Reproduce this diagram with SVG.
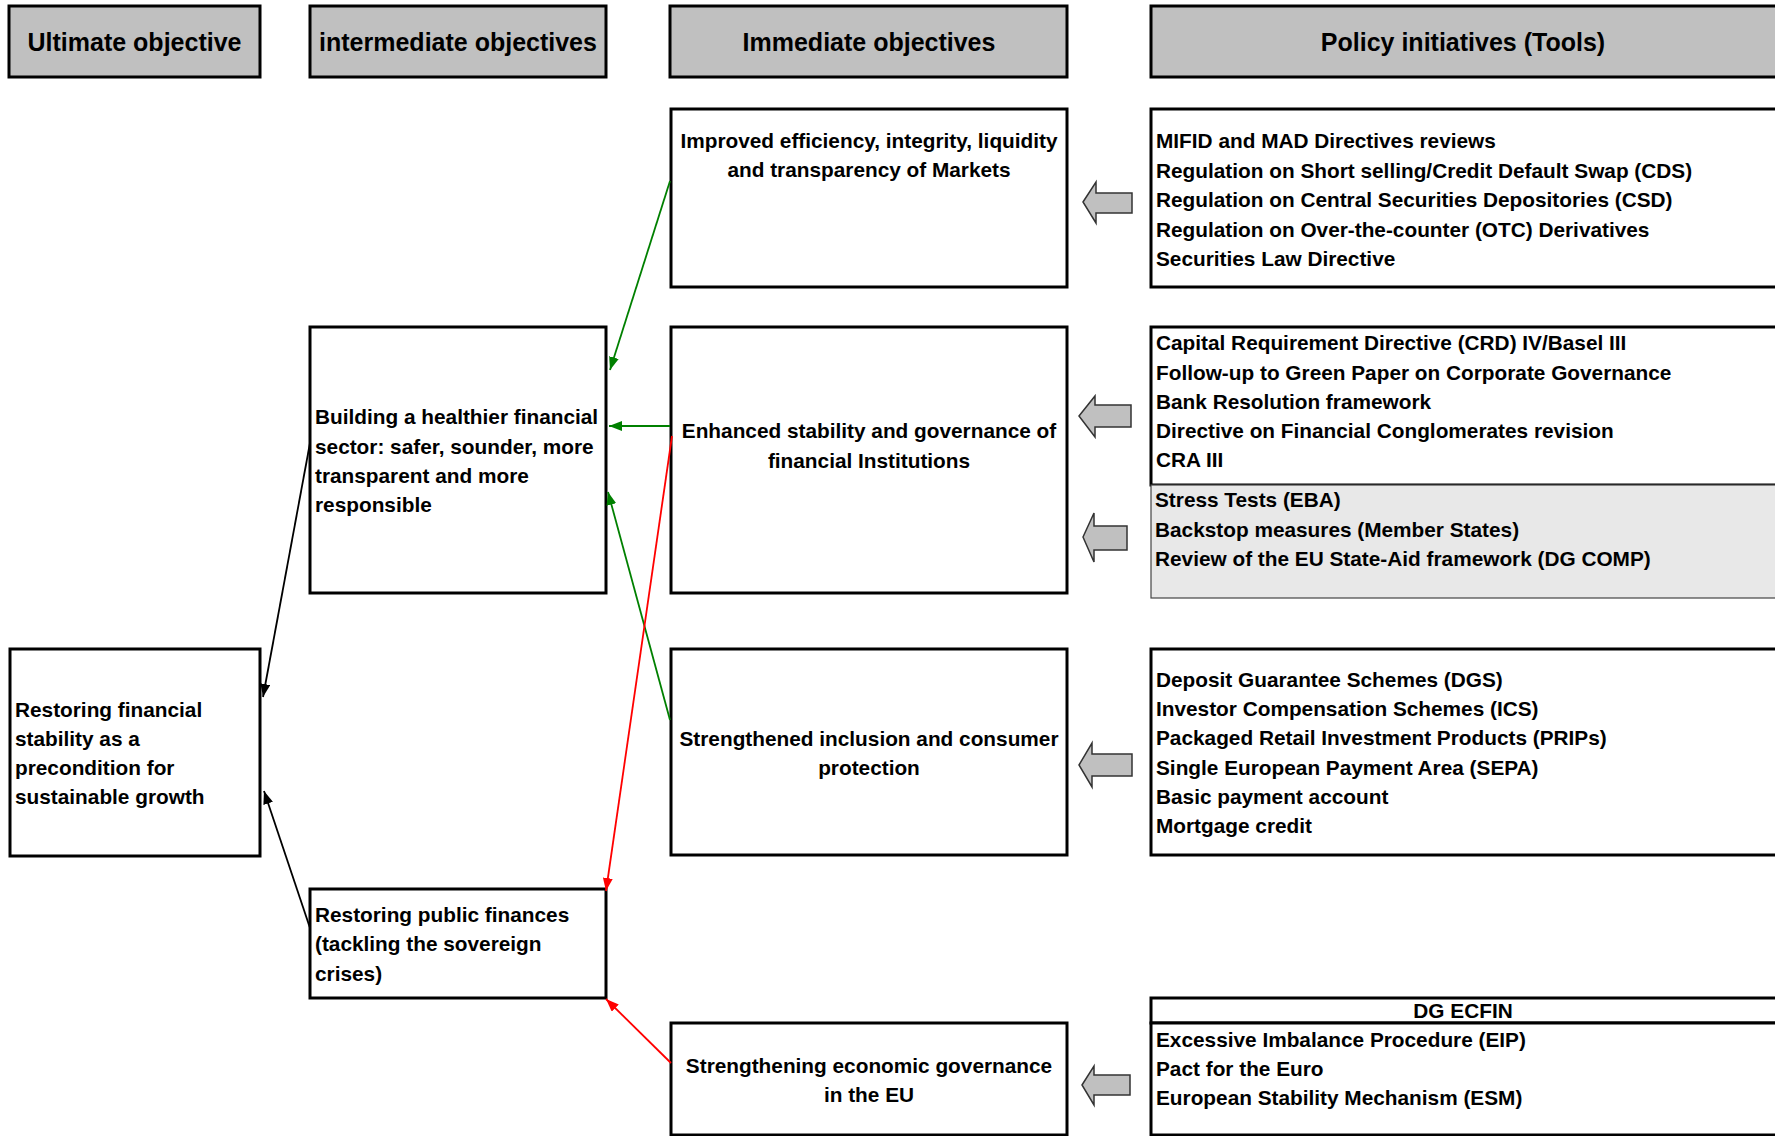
<svg xmlns="http://www.w3.org/2000/svg" width="1775" height="1136" viewBox="0 0 1775 1136">
<style>
text{font-family:"Liberation Sans",Arial,sans-serif;font-weight:bold;fill:#000}
.h{font-size:25px;text-anchor:middle}
.t{font-size:20.8px}
.c{text-anchor:middle}
.hdr{fill:#c0c0c0;stroke:#000;stroke-width:3}
.box{fill:#fff;stroke:#000;stroke-width:3}
.gbox{fill:#e8e8e8;stroke:#444;stroke-width:1.2}
.blk{fill:#c0c0c0;stroke:#333;stroke-width:1.5}
.g{stroke:#008000;stroke-width:1.8;fill:none}
.r{stroke:#ff0000;stroke-width:1.8;fill:none}
.k{stroke:#000;stroke-width:1.8;fill:none}
</style>
<defs>
<marker id="ag" markerUnits="userSpaceOnUse" markerWidth="14" markerHeight="10" refX="13" refY="5" orient="auto"><path d="M0,0 L13,5 L0,10 z" fill="#008000"/></marker>
<marker id="ar" markerUnits="userSpaceOnUse" markerWidth="14" markerHeight="10" refX="13" refY="5" orient="auto"><path d="M0,0 L13,5 L0,10 z" fill="#ff0000"/></marker>
<marker id="ak" markerUnits="userSpaceOnUse" markerWidth="14" markerHeight="10" refX="13" refY="5" orient="auto"><path d="M0,0 L13,5 L0,10 z" fill="#000"/></marker>
</defs>
<rect width="1775" height="1136" fill="#fff"/>

<g id="header-ultimate"><rect class="hdr" x="9" y="6" width="251" height="71"/><text class="h" x="134.5" y="51">Ultimate objective</text></g>
<g id="header-intermediate"><rect class="hdr" x="310" y="6" width="296" height="71"/><text class="h" x="458" y="51">intermediate objectives</text></g>
<g id="header-immediate"><rect class="hdr" x="670" y="6" width="397" height="71"/><text class="h" x="869" y="51">Immediate objectives</text></g>
<g id="header-policy"><rect class="hdr" x="1151" y="6" width="630" height="71"/><text class="h" x="1463" y="51">Policy initiatives (Tools)</text></g>

<g id="node-restoring-stability"><rect class="box" x="10" y="649" width="250" height="207"/>
<text class="t" x="15" y="717">Restoring financial</text>
<text class="t" x="15" y="746">stability as a</text>
<text class="t" x="15" y="775">precondition for</text>
<text class="t" x="15" y="804">sustainable growth</text></g>

<g id="node-healthier-sector"><rect class="box" x="310" y="327" width="296" height="266"/>
<text class="t" x="315" y="424">Building a healthier financial</text>
<text class="t" x="315" y="454">sector: safer, sounder, more</text>
<text class="t" x="315" y="483">transparent and more</text>
<text class="t" x="315" y="512">responsible</text></g>

<g id="node-public-finances"><rect class="box" x="310" y="889" width="296" height="109"/>
<text class="t" x="315" y="922">Restoring public finances</text>
<text class="t" x="315" y="951">(tackling the sovereign</text>
<text class="t" x="315" y="981">crises)</text></g>

<g id="node-markets"><rect class="box" x="671" y="109" width="396" height="178"/>
<text class="t c" x="869" y="148">Improved efficiency, integrity, liquidity</text>
<text class="t c" x="869" y="177">and transparency of Markets</text></g>

<g id="node-institutions"><rect class="box" x="671" y="327" width="396" height="266"/>
<text class="t c" x="869" y="438">Enhanced stability and governance of</text>
<text class="t c" x="869" y="468">financial Institutions</text></g>

<g id="node-consumer"><rect class="box" x="671" y="649" width="396" height="206"/>
<text class="t c" x="869" y="746">Strengthened inclusion and consumer</text>
<text class="t c" x="869" y="775">protection</text></g>

<g id="node-economic-governance"><rect class="box" x="671" y="1023" width="396" height="112"/>
<text class="t c" x="869" y="1073">Strengthening economic governance</text>
<text class="t c" x="869" y="1102">in the EU</text></g>

<g id="tools-markets"><rect class="box" x="1151" y="109" width="630" height="178"/>
<text class="t" x="1156" y="148">MIFID and MAD Directives reviews</text>
<text class="t" x="1156" y="177.5">Regulation on Short selling/Credit Default Swap (CDS)</text>
<text class="t" x="1156" y="207">Regulation on Central Securities Depositories (CSD)</text>
<text class="t" x="1156" y="236.5">Regulation on Over-the-counter (OTC) Derivatives</text>
<text class="t" x="1156" y="266">Securities Law Directive</text></g>

<g id="tools-institutions"><rect class="box" x="1151" y="327" width="630" height="158"/>
<text class="t" x="1156" y="350">Capital Requirement Directive (CRD) IV/Basel III</text>
<text class="t" x="1156" y="379.5">Follow-up to Green Paper on Corporate Governance</text>
<text class="t" x="1156" y="409">Bank Resolution framework</text>
<text class="t" x="1156" y="438">Directive on Financial Conglomerates revision</text>
<text class="t" x="1156" y="467">CRA III</text></g>

<g id="tools-stress"><rect class="gbox" x="1151" y="485" width="630" height="113"/>
<text class="t" x="1155" y="507">Stress Tests (EBA)</text>
<text class="t" x="1155" y="536.5">Backstop measures (Member States)</text>
<text class="t" x="1155" y="566">Review of the EU State-Aid framework (DG COMP)</text></g>

<g id="tools-consumer"><rect class="box" x="1151" y="649" width="630" height="206"/>
<text class="t" x="1156" y="687">Deposit Guarantee Schemes (DGS)</text>
<text class="t" x="1156" y="716">Investor Compensation Schemes (ICS)</text>
<text class="t" x="1156" y="745">Packaged Retail Investment Products (PRIPs)</text>
<text class="t" x="1156" y="774.5">Single European Payment Area (SEPA)</text>
<text class="t" x="1156" y="803.5">Basic payment account</text>
<text class="t" x="1156" y="833">Mortgage credit</text></g>

<g id="tools-ecfin"><rect class="box" x="1151" y="998" width="630" height="25"/>
<text class="t c" x="1463" y="1018">DG ECFIN</text>
<rect class="box" x="1151" y="1023" width="630" height="112"/>
<text class="t" x="1156" y="1046.5">Excessive Imbalance Procedure (EIP)</text>
<text class="t" x="1156" y="1075.5">Pact for the Euro</text>
<text class="t" x="1156" y="1104.5">European Stability Mechanism (ESM)</text></g>

<g id="connectors">
<polygon class="blk" points="1083,202 1096,182 1096,193 1132,193 1132,213 1096,213 1096,223"/>
<polygon class="blk" points="1079,416 1095,396 1095,405 1131,405 1131,427 1095,427 1095,437"/>
<polygon class="blk" points="1083,537 1094,513 1094,526 1127,526 1127,550 1094,550 1094,562"/>
<polygon class="blk" points="1079,765 1092,743 1092,754 1132,754 1132,776 1092,776 1092,787"/>
<polygon class="blk" points="1082,1085 1094,1066 1094,1075 1130,1075 1130,1095 1094,1095 1094,1105"/>
<line class="g" x1="670" y1="181" x2="610" y2="370" marker-end="url(#ag)"/>
<line class="g" x1="670" y1="426" x2="609" y2="426" marker-end="url(#ag)"/>
<line class="g" x1="670" y1="720" x2="608" y2="492" marker-end="url(#ag)"/>
<line class="r" x1="672" y1="436" x2="606" y2="891" marker-end="url(#ar)"/>
<line class="r" x1="671" y1="1063" x2="606" y2="999" marker-end="url(#ar)"/>
<line class="k" x1="310" y1="443" x2="263" y2="697" marker-end="url(#ak)"/>
<line class="k" x1="310" y1="928" x2="264" y2="791" marker-end="url(#ak)"/>
</g>
</svg>
